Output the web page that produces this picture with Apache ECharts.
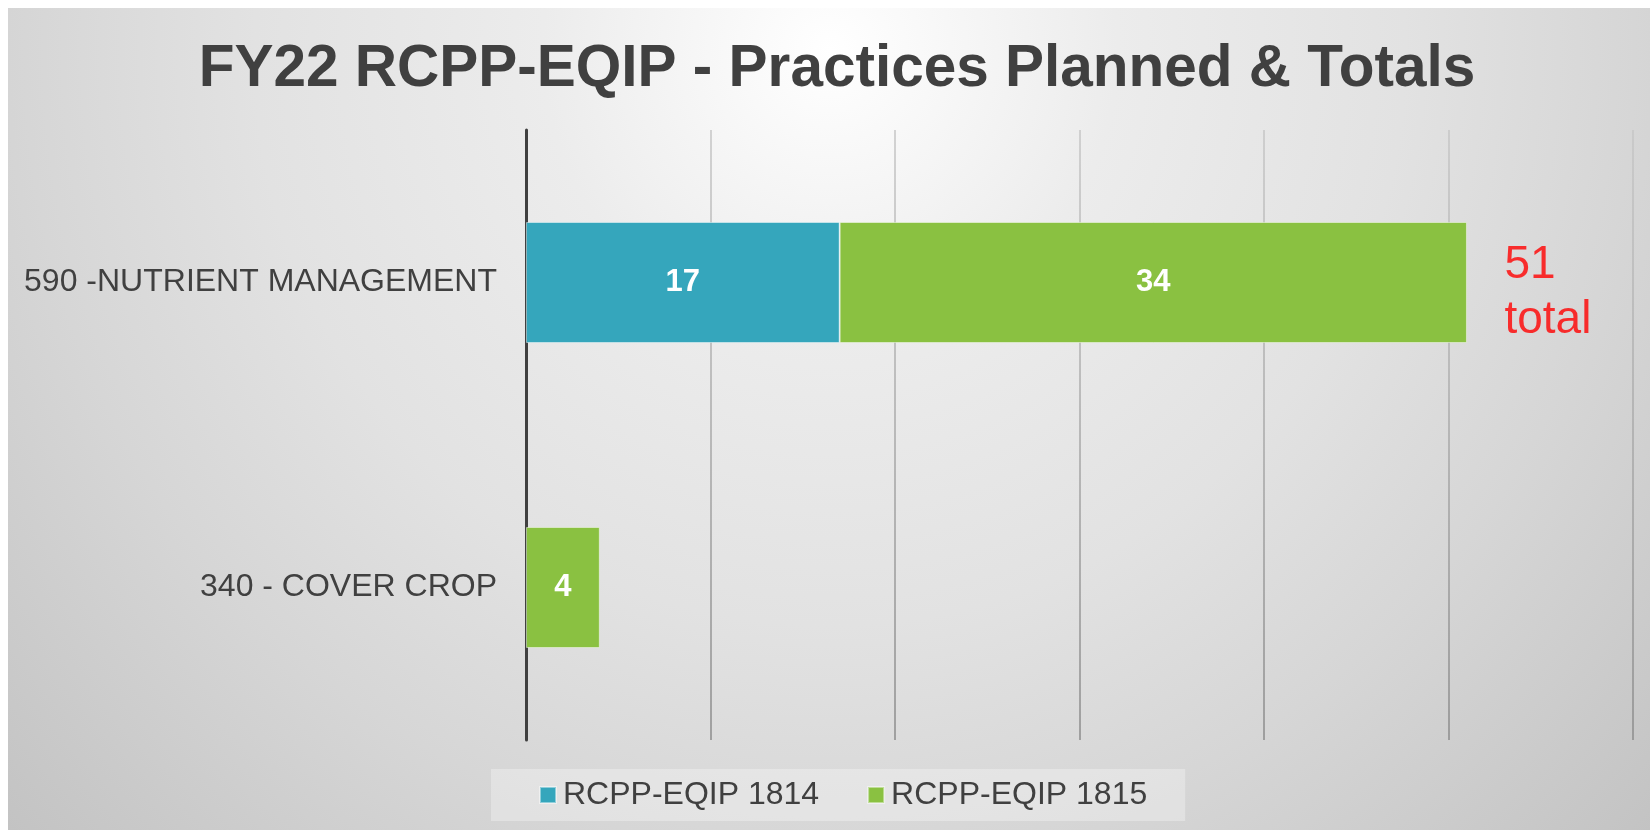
<!DOCTYPE html>
<html>
<head>
<meta charset="utf-8">
<script src="https://cdn.jsdelivr.net/npm/echarts@6/dist/echarts.min.js"></script>
<style>
  html, body { margin: 0; padding: 0; background: #ffffff; }
  #chart { width: 1650px; height: 830px; }
</style>
</head>
<body>
<div id="chart"></div>
<script>
// practices, bottom to top as ECharts lays out a category y axis
const categories = ["340 - COVER CROP", "590 -NUTRIENT MANAGEMENT"];
const rcpp1814 = [null, 17];
const rcpp1815 = [4, 34];
const xTicks = [0, 10, 20, 30, 40, 50, 60];

const FONT = "'Liberation Sans', Arial, sans-serif";
const TEXT = "#404040";

// total beside a bar, only where both programs planned the practice
const totalPoints = [];
categories.forEach((c, i) => {
  if (rcpp1814[i] != null && rcpp1815[i] != null) {
    totalPoints.push([rcpp1814[i] + rcpp1815[i], c]);
  }
});

const chart = echarts.init(document.getElementById("chart"));

const barLabel = {
  show: true,
  position: "inside",
  color: "#ffffff",
  fontFamily: FONT,
  fontWeight: "bold",
  fontSize: 31,
};

const option = {
  backgroundColor: {
    type: "radial",
    x: 830, y: 50, r: 1150,
    global: true,
    colorStops: [
      { offset: 0, color: "#ffffff" },
      { offset: 0.25, color: "#ececec" },
      { offset: 0.5, color: "#e2e2e2" },
      { offset: 0.7, color: "#d6d6d6" },
      { offset: 1, color: "#c2c2c2" },
    ],
  },
  animation: false,
  graphic: [
    { type: "rect", shape: { x: 0, y: 0, width: 1650, height: 8 }, style: { fill: "#ffffff" }, silent: true },
    { type: "rect", shape: { x: 0, y: 0, width: 8, height: 830 }, style: { fill: "#ffffff" }, silent: true },
  ],
  title: {
    text: "FY22 RCPP-EQIP - Practices Planned & Totals",
    left: 832,
    top: 35,
    textAlign: "center",
    textStyle: {
      fontFamily: FONT,
      fontWeight: "bold",
      fontSize: 58.5,
      color: TEXT,
    },
  },
  legend: {
    data: ["RCPP-EQIP 1814", "RCPP-EQIP 1815"],
    left: 491,
    top: 769,
    padding: [10, 38, 10, 48],
    backgroundColor: "rgba(255,255,255,0.3)",
    itemWidth: 16,
    itemHeight: 16,
    itemGap: 48,
    icon: "rect",
    textStyle: { fontFamily: FONT, fontSize: 32, color: TEXT, padding: [0, 0, 0, 2] },
  },
  grid: { left: 526, right: 17, top: 130, bottom: 90 },
  xAxis: {
    type: "value",
    min: xTicks[0],
    max: xTicks[xTicks.length - 1],
    interval: xTicks[1] - xTicks[0],
    axisLabel: { show: false },
    axisLine: { show: false },
    axisTick: { show: false },
    splitLine: {
      lineStyle: {
        width: 1.5,
        color: {
          type: "linear",
          x: 0, y: 130, x2: 0, y2: 740,
          global: true,
          colorStops: [
            { offset: 0, color: "#c6c6c6" },
            { offset: 1, color: "#8c8c8c" },
          ],
        },
      },
    },
  },
  yAxis: {
    type: "category",
    data: categories,
    axisTick: { show: false },
    axisLine: { lineStyle: { color: TEXT, width: 3 } },
    axisLabel: { fontFamily: FONT, fontSize: 32, color: TEXT, margin: 29 },
  },
  series: [
    {
      name: "RCPP-EQIP 1814",
      type: "bar",
      stack: "total",
      barWidth: 121,
      data: rcpp1814,
      itemStyle: { color: "#35a6bc", borderColor: "rgba(255,255,255,0.45)", borderWidth: 1 },
      label: barLabel,
    },
    {
      name: "RCPP-EQIP 1815",
      type: "bar",
      stack: "total",
      barWidth: 121,
      data: rcpp1815,
      itemStyle: { color: "#8ac141", borderColor: "rgba(255,255,255,0.45)", borderWidth: 1 },
      label: barLabel,
    },
    {
      name: "total",
      type: "scatter",
      silent: true,
      symbolSize: 1,
      itemStyle: { color: "transparent" },
      data: totalPoints,
      label: {
        show: true,
        position: "right",
        distance: 37,
        offset: [0, 10],
        align: "left",
        formatter: (p) => p.value[0] + "\ntotal",
        fontFamily: FONT,
        fontSize: 46,
        lineHeight: 55,
        color: "#ff0000",
      },
    },
  ],
};

chart.setOption(option);
window.addEventListener("resize", function () {
  chart.resize();
});
</script>
</body>
</html>
